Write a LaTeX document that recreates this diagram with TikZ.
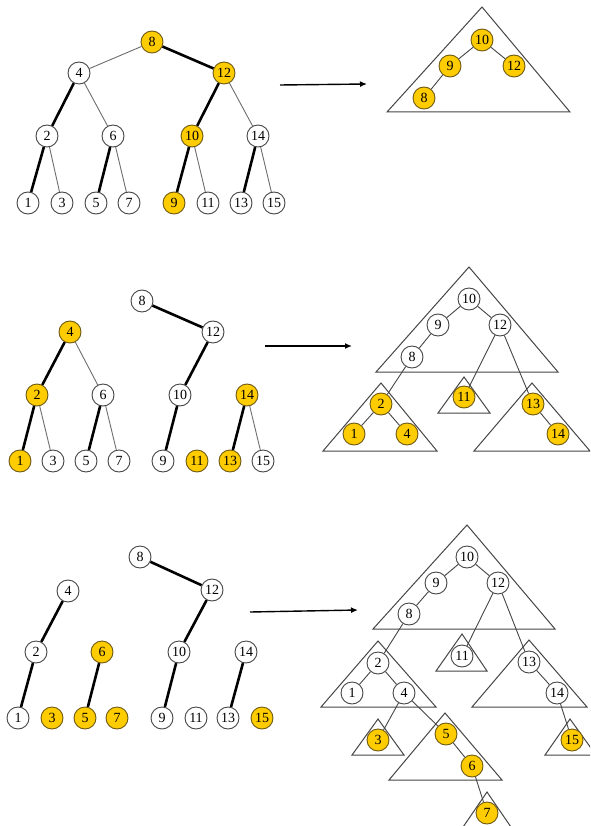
\documentclass[tikz,border=0pt]{standalone}
\usepackage{fontspec}
\setmainfont{Liberation Serif}
\usetikzlibrary{arrows.meta}
\definecolor{gold}{RGB}{255,204,0}
\definecolor{goldedge}{RGB}{110,90,20}
\definecolor{edgegray}{RGB}{70,70,70}
\definecolor{thingray}{RGB}{110,110,110}
\tikzset{
  nd/.style={circle,draw=edgegray,line width=0.9pt,fill=white,minimum size=22pt,inner sep=0pt,font=\fontsize{14}{14}\selectfont},
  gd/.style={nd,fill=gold,draw=goldedge},
  thk/.style={line width=2.6pt,black},
  thn/.style={line width=0.9pt,thingray},
  bst/.style={line width=0.9pt,edgegray},
  tri/.style={line width=1pt,edgegray},
  arr/.style={line width=1.4pt,black,-{Latex[length=7pt,width=6pt]}}
}
\begin{document}
\begin{tikzpicture}[x=1pt,y=-1pt]
\useasboundingbox (0,0) rectangle (590,826);
\clip (0,0) rectangle (590,826);
\fill[white] (0,0) rectangle (590,826);

% ---------- Panel 1 left ----------
\node[gd] (a8) at (152,42) {8};
\node[nd] (a4) at (79,73) {4};
\node[gd] (a12) at (224,73) {12};
\node[nd] (a2) at (47,136) {2};
\node[nd] (a6) at (113,136) {6};
\node[gd] (a10) at (192,136) {10};
\node[nd] (a14) at (258,136) {14};
\node[nd] (a1) at (28,203) {1};
\node[nd] (a3) at (62,203) {3};
\node[nd] (a5) at (96,203) {5};
\node[nd] (a7) at (129,203) {7};
\node[gd] (a9) at (174,203) {9};
\node[nd] (a11) at (208,203) {11};
\node[nd] (a13) at (241,203) {13};
\node[nd] (a15) at (274,203) {15};
\draw[thn] (a8) -- (a4);
\draw[thk] (a8) -- (a12);
\draw[thk] (a4) -- (a2);
\draw[thn] (a4) -- (a6);
\draw[thk] (a12) -- (a10);
\draw[thn] (a12) -- (a14);
\draw[thk] (a2) -- (a1);
\draw[thn] (a2) -- (a3);
\draw[thk] (a6) -- (a5);
\draw[thn] (a6) -- (a7);
\draw[thk] (a10) -- (a9);
\draw[thn] (a10) -- (a11);
\draw[thk] (a14) -- (a13);
\draw[thn] (a14) -- (a15);

% arrow 1
\coordinate (p1s) at (280,85);
\coordinate (p1e) at (367,84);
\draw[arr] (p1s) -- (p1e);

% ---------- Panel 1 right ----------
\draw[tri] (482,7) -- (570,112) -- (387,112) -- cycle;
\node[gd] (b10) at (482,40) {10};
\node[gd] (b9) at (450,66) {9};
\node[gd] (b12) at (514,66) {12};
\node[gd] (b8) at (424,98) {8};
\draw[bst] (b10) -- (b9);
\draw[bst] (b10) -- (b12);
\draw[bst] (b9) -- (b8);

% ---------- Panel 2 left ----------
\node[nd] (c8) at (142,301) {8};
\node[nd] (c12) at (213,332) {12};
\node[gd] (c4) at (70,332) {4};
\node[gd] (c2) at (37,395) {2};
\node[nd] (c6) at (103,395) {6};
\node[nd] (c10) at (180,395) {10};
\node[gd] (c14) at (247,395) {14};
\node[gd] (c1) at (20,461) {1};
\node[nd] (c3) at (53,461) {3};
\node[nd] (c5) at (86,461) {5};
\node[nd] (c7) at (119,461) {7};
\node[nd] (c9) at (163,461) {9};
\node[gd] (c11) at (197,461) {11};
\node[gd] (c13) at (230,461) {13};
\node[nd] (c15) at (263,461) {15};
\draw[thk] (c8) -- (c12);
\draw[thk] (c12) -- (c10);
\draw[thk] (c10) -- (c9);
\draw[thk] (c4) -- (c2);
\draw[thn] (c4) -- (c6);
\draw[thk] (c2) -- (c1);
\draw[thn] (c2) -- (c3);
\draw[thk] (c6) -- (c5);
\draw[thn] (c6) -- (c7);
\draw[thk] (c14) -- (c13);
\draw[thn] (c14) -- (c15);

% arrow 2
\coordinate (p2s) at (265,346);
\coordinate (p2e) at (352,346);
\draw[arr] (p2s) -- (p2e);

% ---------- Panel 2 right ----------
\draw[tri] (469,267) -- (558,372) -- (376,372) -- cycle;
\draw[tri] (381,383) -- (437,451) -- (323,451) -- cycle;
\draw[tri] (464,377) -- (490,413) -- (438,413) -- cycle;
\draw[tri] (532,383) -- (590,451) -- (474,451) -- cycle;
\node[nd] (d10) at (469,299) {10};
\node[nd] (d9) at (438,325) {9};
\node[nd] (d12) at (500,325) {12};
\node[nd] (d8) at (412,357) {8};
\node[gd] (d2) at (381,404) {2};
\node[gd] (d1) at (354,434) {1};
\node[gd] (d4) at (407,434) {4};
\node[gd] (d11) at (464,397) {11};
\node[gd] (d13) at (533,404) {13};
\node[gd] (d14) at (558,434) {14};
\draw[bst] (d10) -- (d9);
\draw[bst] (d10) -- (d12);
\draw[bst] (d9) -- (d8);
\draw[bst] (d8) -- (d2);
\draw[bst] (d12) -- (d11);
\draw[bst] (d12) -- (d13);
\draw[bst] (d2) -- (d1);
\draw[bst] (d2) -- (d4);
\draw[bst] (d13) -- (d14);

% ---------- Panel 3 left ----------
\node[nd] (e8) at (140,557) {8};
\node[nd] (e12) at (212,590) {12};
\node[nd] (e4) at (68,591) {4};
\node[nd] (e2) at (36,652) {2};
\node[gd] (e6) at (102,652) {6};
\node[nd] (e10) at (179,652) {10};
\node[nd] (e14) at (246,652) {14};
\node[nd] (e1) at (18,718) {1};
\node[gd] (e3) at (52,718) {3};
\node[gd] (e5) at (85,718) {5};
\node[gd] (e7) at (117,718) {7};
\node[nd] (e9) at (162,718) {9};
\node[nd] (e11) at (196,718) {11};
\node[nd] (e13) at (228,718) {13};
\node[gd] (e15) at (262,718) {15};
\draw[thk] (e8) -- (e12);
\draw[thk] (e12) -- (e10);
\draw[thk] (e10) -- (e9);
\draw[thk] (e4) -- (e2);
\draw[thk] (e2) -- (e1);
\draw[thk] (e6) -- (e5);
\draw[thk] (e14) -- (e13);

% arrow 3
\coordinate (p3s) at (250,612);
\coordinate (p3e) at (358,610);
\draw[arr] (p3s) -- (p3e);

% ---------- Panel 3 right ----------
\draw[tri] (467,525) -- (555,629) -- (373,629) -- cycle;
\draw[tri] (378,641) -- (436,707) -- (321,707) -- cycle;
\draw[tri] (462,634) -- (487,671) -- (436,671) -- cycle;
\draw[tri] (529,640) -- (587,707) -- (472,707) -- cycle;
\draw[tri] (378,719) -- (404,755) -- (352,755) -- cycle;
\draw[tri] (445,713) -- (502,780) -- (389,780) -- cycle;
\draw[tri] (487,792) -- (513,830) -- (461,830) -- cycle;
\draw[tri] (570,719) -- (596,755) -- (545,755) -- cycle;
\node[nd] (f10) at (467,557) {10};
\node[nd] (f9) at (436,583) {9};
\node[nd] (f12) at (498,583) {12};
\node[nd] (f8) at (409,614) {8};
\node[nd] (f2) at (378,663) {2};
\node[nd] (f1) at (352,693) {1};
\node[nd] (f4) at (404,693) {4};
\node[nd] (f11) at (462,656) {11};
\node[nd] (f13) at (529,662) {13};
\node[nd] (f14) at (557,693) {14};
\node[gd] (f3) at (378,740) {3};
\node[gd] (f5) at (446,734) {5};
\node[gd] (f6) at (472,766) {6};
\node[gd] (f7) at (487,813) {7};
\node[gd] (f15) at (572,740) {15};
\draw[bst] (f10) -- (f9);
\draw[bst] (f10) -- (f12);
\draw[bst] (f9) -- (f8);
\draw[bst] (f8) -- (f2);
\draw[bst] (f12) -- (f11);
\draw[bst] (f12) -- (f13);
\draw[bst] (f2) -- (f1);
\draw[bst] (f2) -- (f4);
\draw[bst] (f13) -- (f14);
\draw[bst] (f4) -- (f3);
\draw[bst] (f4) -- (f5);
\draw[bst] (f5) -- (f6);
\draw[bst] (f6) -- (f7);
\draw[bst] (f14) -- (f15);
\end{tikzpicture}
\end{document}
